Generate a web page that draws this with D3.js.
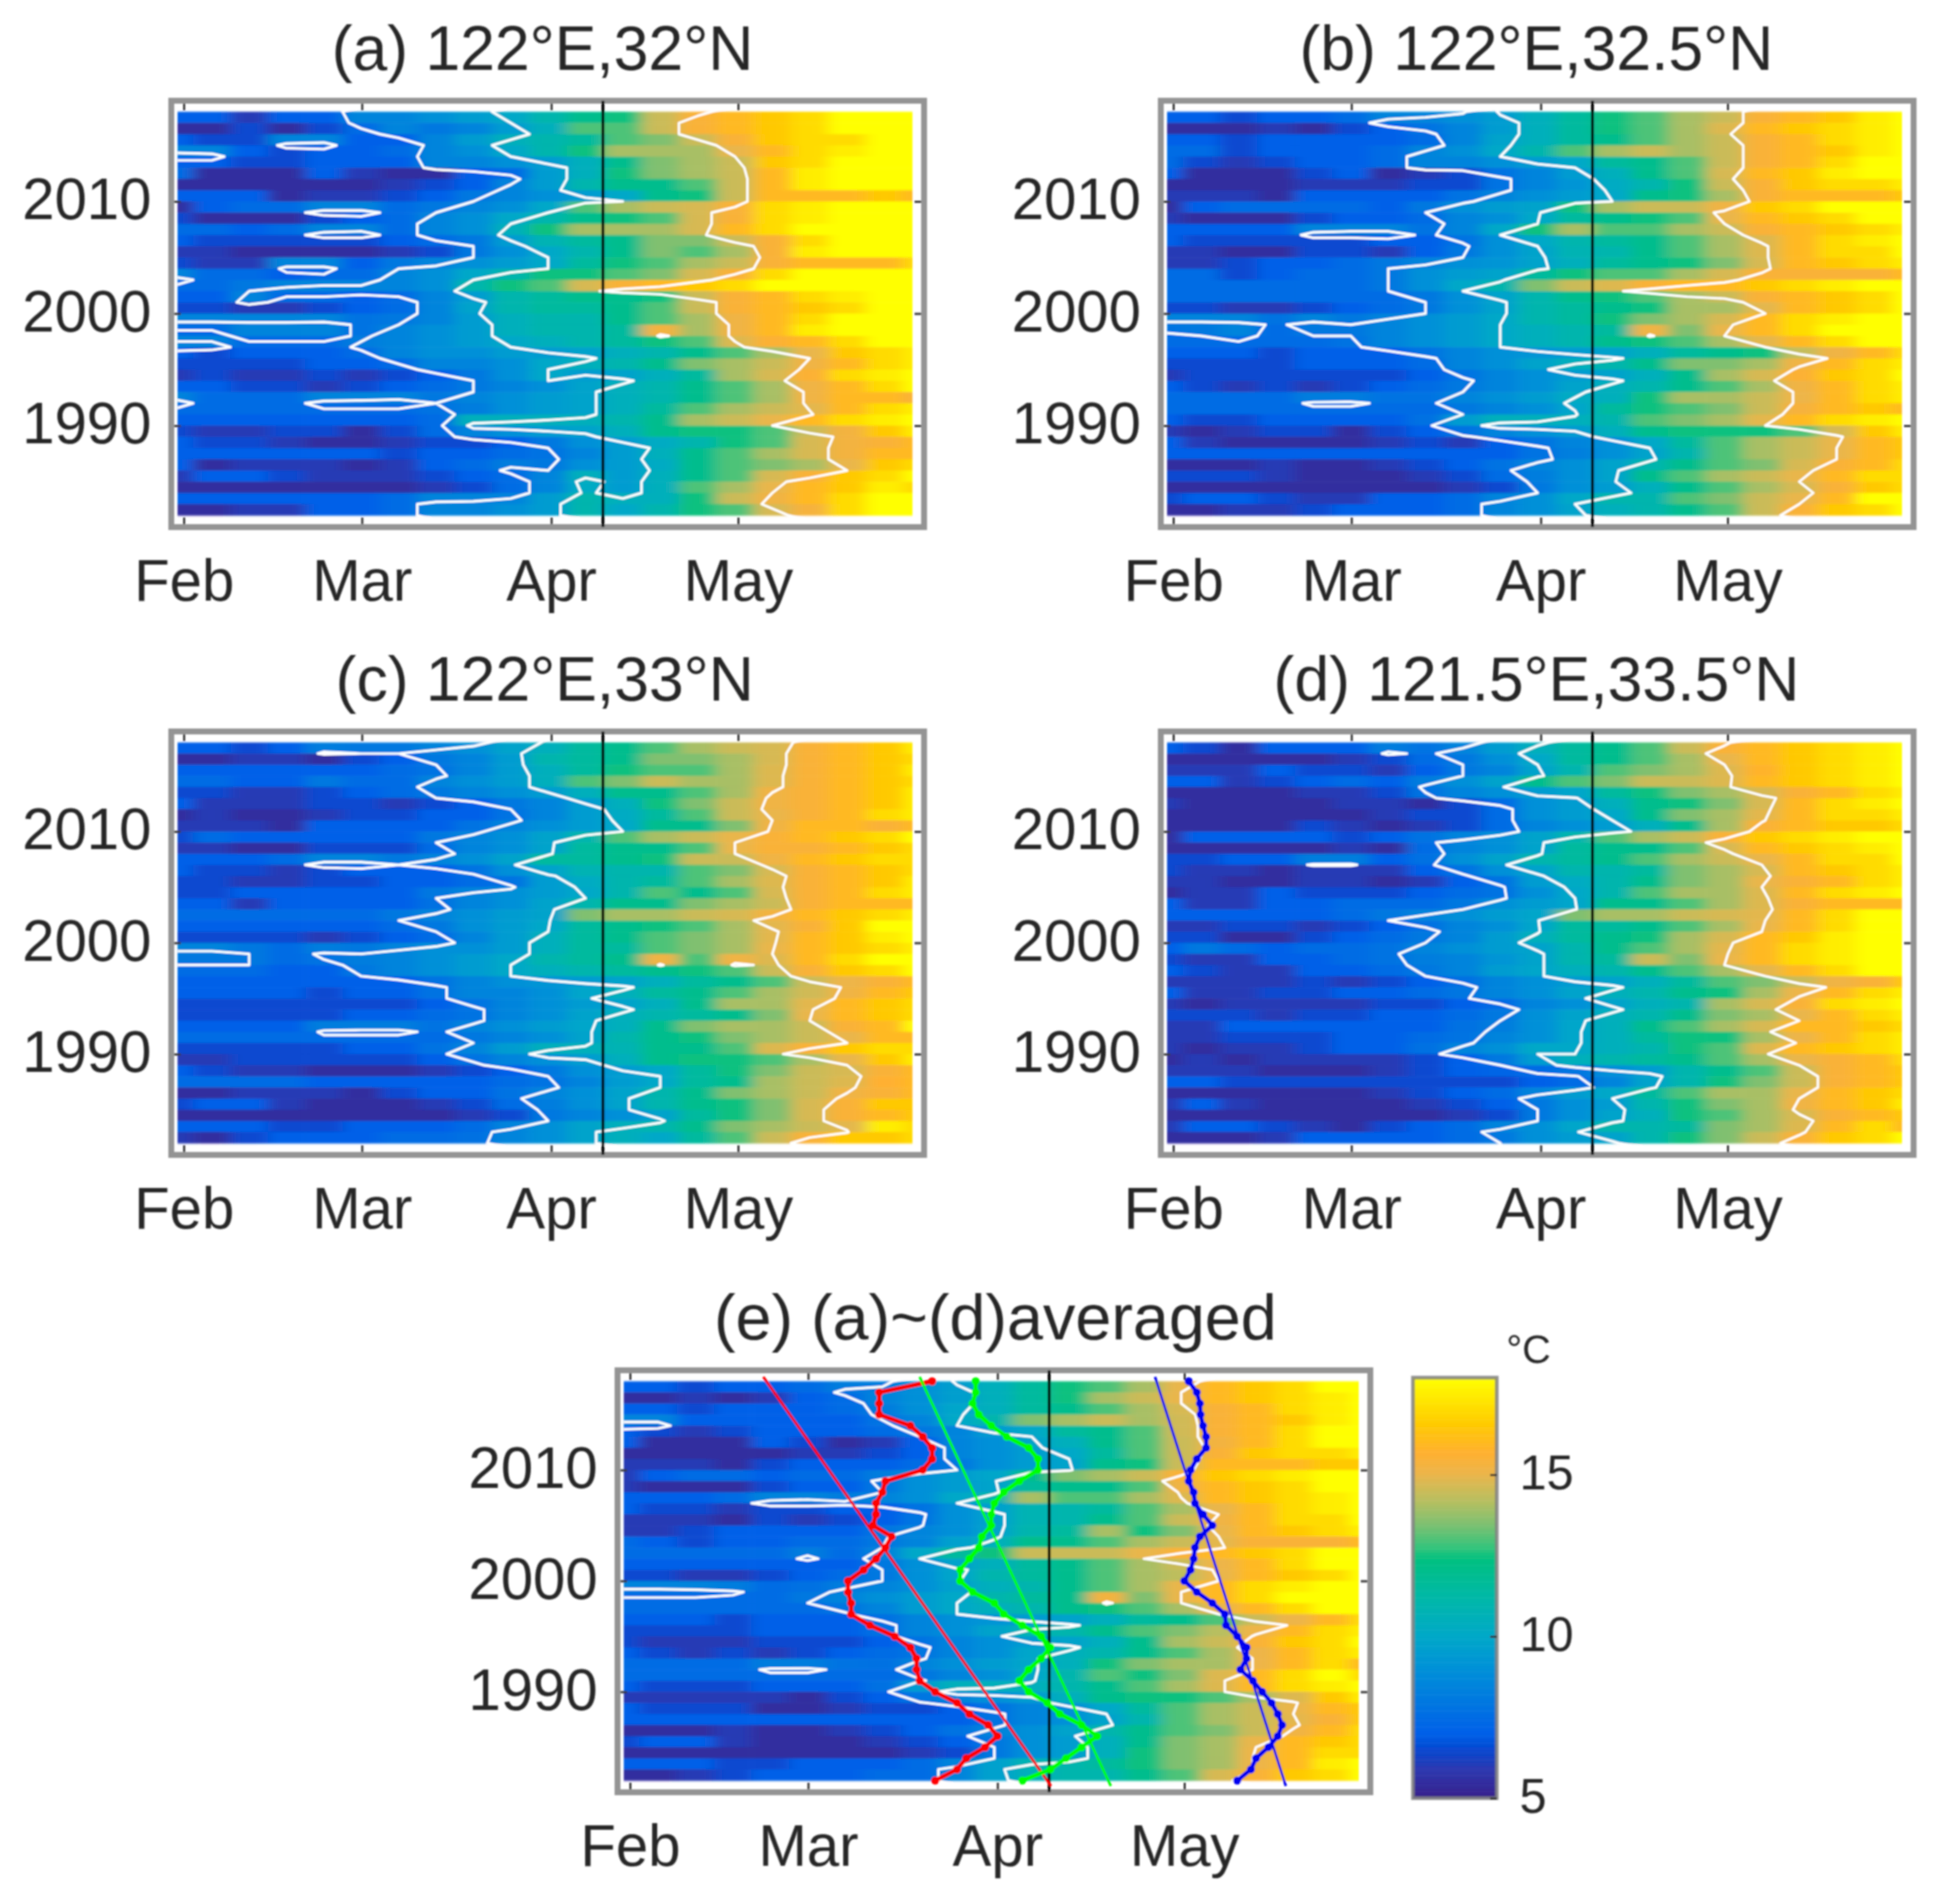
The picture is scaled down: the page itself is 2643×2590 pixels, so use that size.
<!DOCTYPE html>
<html>
<head>
<meta charset="utf-8">
<script src="https://cdn.jsdelivr.net/npm/d3@7"></script>
<style>
  html, body { margin: 0; background: #fff; }
  text { font-family: "Liberation Sans", Arial, sans-serif; fill: #262626; }
</style>
</head>
<body>
<svg id="chart" width="2643" height="2590"></svg>
<script>
// sst by year (rows, 2018 at the top, down to 1982) and day of year (columns)
const years = d3.range(2018, 1981, -1);
const colDays = d3.range(30.5, 151, 6);
const tickDays = [32, 60.6, 91, 121];
const monthLabels = ["Feb", "Mar", "Apr", "May"];
const yearTicks = [1990, 2000, 2010];
const contourLevels = [8, 10, 15];
const markDay = 99.3;

const tempStops = [5, 5.9, 6.5, 7, 8, 9, 10, 11.2, 12.4, 12.7, 13.5, 14.2, 15.05, 15.7, 16.6, 18];
const tempColors = ["#38208a", "#2c38b0", "#0848d0", "#0060e8", "#0078e0", "#0090d8", "#00a8c8", "#00b8a8",
  "#00c080", "#2fc47c", "#80c070", "#b8bf60", "#ecb54a", "#ffb030", "#ffcc00", "#ffff00"];

const panelA = [
[7,7,7,7,7.5,8.5,8.5,9,9.5,10.5,11,12,12.5,13,14.7,15.5,16,16.5,17,18,18],
[7,7,6,7,7,8.5,8.5,9,9.5,10,11,12,12.5,14.5,15.5,16,16.5,17,18,18,18],
[5.5,5.5,6.5,5.5,6.5,7.5,8.5,8,8.5,9.5,10.5,13,13,14.5,15.5,16,16.5,17,18,18,18],
[7,6.5,6.5,8.5,8.5,7,7,8.5,9.5,10.5,11,11.5,13,13.5,14.5,15.5,16.5,17,17,18,18],
[8.5,8.5,7,6.5,7,7,7.5,8.5,9,10,11,12.5,14,14,14,15,16,17,17.5,18,18],
[7,7,6.5,6.5,7,7,7,8.5,8.5,9,9.5,10.5,12,13.5,14,14.5,16.5,17,18,18,18],
[7.5,5.5,5.5,5.5,7,6,5.5,5.5,7,7.5,9.5,10.5,12.5,13.5,14,14.5,16,17.5,18,18,18],
[5.5,5.5,5.5,5.5,5.5,5.5,6,6.5,7,8.5,9.5,11,12,12,13,14.5,16,17.5,18,18,18],
[7,7,7,5.5,6,6,6.5,7,8,8.5,9,9.5,10,12,12.5,14.5,16,16,16,16.5,16],
[5.5,7,7.5,7.5,8.5,8.5,7.5,8,8.5,9,10,13,14,14.5,14.7,15.5,17,17.5,18,18,18],
[6.5,5.5,5.5,5.5,6.5,7,7.5,8.5,9,10,11,12,12.5,13,14.7,15.5,17,17.5,18,18,18],
[7.5,7.5,7,7.5,8.5,8.5,7.5,8.5,9,10.5,12.5,14,14,14,14.7,16,17,18,18,18,18],
[7,6.5,6.5,6.5,6.5,6.5,7,7.5,8,9.5,10.8,11.5,12,13.5,13.5,14.5,15.5,17,18,18,18],
[6,6,5.5,5.5,5.5,5.5,6,6.5,8,9,10,11,12,13.5,13,14,15.5,17.5,18,18,18],
[6.5,6,6,8.5,8.5,7,8,8.5,9,9.5,10,11.5,12.5,13,14,14.5,15.5,16,16,16,17],
[8.5,7.5,7.5,7,7.5,7.5,8.5,9,10,11,12.5,12.5,13,13.5,14.7,15.5,17,18,18,18,18],
[7.5,7.5,8,8.5,8.5,8.5,8.5,9,11,12.5,13,14.7,15.5,16,16.5,17,18,18,18,18,18],
[7,7,8.5,7.5,7.5,7,7.5,8.5,9.5,11,11.5,12,12,12.5,14.5,15.5,16,17,17.5,18,18],
[6.5,6.5,6,6,6.5,7,7.5,8.5,9.8,11,11.5,11.5,12,13,14.5,15.5,16,16.5,17,18,18],
[8.5,8.5,8.5,8.5,8.5,7.8,8,8.5,9.5,10.5,11,11,12,13,14,15.2,16,17,18,18,18],
[7.5,7.5,8.5,8.5,8.5,7.8,8.5,9,9.5,10.5,11,11,11.5,15.3,14,15.2,16,17.5,18,18,18],
[8.5,8.5,7.5,7.5,7.5,8.2,8.5,9,9.5,10,10.5,11,11.5,12.5,13,14.8,15.6,16,17,18,18],
[7,6.5,7,7,7,7.5,8.5,9,9,9.5,9.5,9.8,10.5,11,12,13,14,15,16.5,17,17.5],
[6.5,6.5,6.5,6.5,7,7,7.5,8.5,8.5,9,10,10.5,11,12,13.5,14,14.5,15.2,16,17,17.5],
[6,6.5,6,6,6.5,6,6.5,7,8,9,10,9.5,9.8,10.5,11.5,14,14.7,15.6,17,17.5,18],
[7,7,6.5,6.5,6,6.5,7,7.5,8,8.5,9,9.8,10.5,11,12,13,14,15.2,16,17,18],
[8.5,7.5,7.5,7.5,8.5,8.5,8.5,8,8.5,9,9.5,9.8,10.5,11,12,13,14,15.2,16,16,15.5],
[7.5,7.5,7.5,7.5,7.5,7.5,7.5,7.8,8.2,9,9.5,9.8,10.5,11.5,13,14,14.5,14.9,16,17,17.5],
[7,7,7,7,7,7,7,7.5,10.5,10.5,10.5,10.5,11,12,14,14.5,15,16,17,17.5,18],
[6.5,6,6,6.5,6.5,5.5,6.5,7.5,8.5,9,9.5,9.8,10.5,12,12.5,12.5,13,14.5,15.3,16.5,17.5],
[7,6.5,6.5,6,5.5,5.5,6,6.5,6.5,7,8,9,9.5,10.2,11,12.5,13,14.7,15.3,15.5,16],
[7,7,7,7,7,7,6.5,7,7,7.5,7.8,8.5,9.5,10.5,12,13,14,14.7,15.3,16,16],
[7,5.5,6,6,6,5.5,6,7,7.5,8.2,8,9,9.5,10.2,12,13,13.5,14,15,16.5,17],
[6,7,7,6.5,6,6,6,6.5,7,7.5,8.5,10.5,9.5,10.5,12,13,14.7,15.5,16.5,17,18],
[5.5,5.5,5.5,5.5,5.5,5.5,5.5,6,6.5,7.5,8.5,10.2,9.5,10.5,13,14,15,16,16.5,17.5,17],
[7,7,7,7,7,7,7.5,8.5,8.5,8.5,9.5,11,10.5,10.5,12.5,14.5,15.2,16,17,18,18],
[5.5,5.5,6,6,7,7,7.5,8.5,8.5,9,9.5,11,10,11,12.5,13,14.7,15.4,17,18,18]
];

const panelB = [
[7,7,7,7,7,7,7,7.5,7.8,10.2,11,12,12.5,13,13.5,14.5,15.5,16,16.5,17.5,18],
[7,7,6.5,7,7,7.5,8.5,8.5,9,9.5,10.5,11.5,12.5,13,14,14.5,15.5,16,16.5,17.5,18],
[5.5,5.5,5.5,6,5.5,6.5,7,7.8,8.5,9.5,10.5,11.5,12.5,13,14,14.8,16,16.5,17,17.5,18],
[7,7,6.5,7,7,7,7,7.5,8.5,9.8,10.5,11.5,12,13,14,14.5,15.5,16,17,17.5,18],
[7.5,7.5,6.5,7,7,7,7.5,8.5,9,10,11,13,14,14.5,14,14.5,15.5,16,16.5,17.5,18],
[7.5,6.5,6,6.5,7,7,7.5,8.5,8.5,9,9.5,10,11.5,12,13,14.5,15.5,16,17,18,18],
[7,5.5,5.5,5.5,6.5,7,5.5,6,6.5,7.8,8.5,9.5,10.5,12,13,14.7,16,16.5,17.5,18,18],
[5.5,5.5,5.5,5.5,6,6,6,6.5,6.5,7.8,8.5,9.2,10.2,11,12.5,14.5,15.5,16.5,17,17,17.5],
[6,6,6,5.5,7,7,7,7,7.8,8.5,9,9.5,10,12,12.5,14,15.5,16,16,16,16.5],
[5.5,7,7.5,7.5,7.5,7.5,7,8,9,9.5,9.8,12.5,14,14.5,14.5,15.2,16.5,17,18,18,18],
[6,5.5,5.5,5.5,6.5,7,7,7.5,8.5,9,10,11.5,12,12.5,13,15,16,16.5,17,18,18],
[7,7,7,7,8.5,8.5,8.5,7.8,8.5,10,12.5,14,13,13,14,14.5,15.5,16,16.5,17,17.5],
[7,6.5,6.5,6.5,6.5,6.5,7,7,7.8,9,10,11,11.5,12,13,14,14.8,16,17,17.5,18],
[6,6,5.5,5.5,6.5,6.5,6,7,8,9,9.8,10.8,11,12,13,14,14.8,16,17,17,18],
[6,6,6.5,7,7,7.5,8,8.5,9,9.2,9.8,10.5,11.5,12,12.5,13.5,14.7,16,16.5,17,17.5],
[7.5,7.5,6.5,7,7.5,7.5,8,9,9.5,9.8,11.5,12.5,13,13,14,14.7,15.5,15.5,15.5,15.5,16],
[7.5,7.5,7.5,7.5,7.5,7.5,8,9,10,11,13.5,14.5,14.8,15.5,16,16,16.5,17,17.5,18,18],
[7.5,7.5,7.5,7.5,7.5,7.5,7.5,8,9,9.8,11,12,12.5,13,14,14.5,15.5,16,16.5,17,18],
[6.5,6.5,6,6,6.5,7,7.5,8,9,9.8,11,11.5,12,12.5,14,14,14.9,16,16.5,17,18],
[8.5,8.5,8.5,7.8,8.5,8,8.5,9,9.5,10,11,11.5,12.5,13.5,14,14.7,16,17,17.5,18,18],
[7.8,8,8.5,7.5,8,8,8.5,9,9.5,10,10.5,11,11.5,15.2,13.5,15,16,17,18,18,18],
[7.5,7.5,7.5,7.5,7.5,7.8,8.5,9,9.5,10,10.5,11,12,12.5,13,14,14.9,16,17,18,18],
[7,7,7,6.5,7,7,7,7.8,8.5,9,9.2,9.5,9.8,10.5,11.5,12,12.5,14.4,15.2,16,17],
[6.5,6.5,6.5,6.5,7,7,7,7.5,8.5,9,9.8,10.5,11,12,13.5,13.5,14,15.2,16,17,17.5],
[6,6.5,6.5,6.5,6.5,6.5,6.5,7,7.8,8.5,9,9.5,9.8,10.5,12,14,14.7,15.6,16.5,17,18],
[7,6.5,6,6.5,6,6.5,7,7.5,8,8.5,9,9.8,10.5,11,12,13,14,15.2,16,17,17.5],
[7.5,7.5,7.5,7.5,8.2,8.2,7.8,7.8,8.5,9,9.5,10.2,10.5,12.5,14,14,14.5,15.1,16,17,17.5],
[7.5,7.5,7.5,7.5,7.5,7.5,7.5,7.5,8,8.5,9,9.9,11.5,12.5,13,13.5,14.5,15.4,16,16.5,16],
[7,6.5,6.5,7,7,7,7,7.7,9.5,10.5,10.5,10.5,11,13,13.5,14,14.9,16,17,17.5,18],
[6,5.5,6,6.5,6.5,5.5,6.5,7,7.8,8.5,9,9.5,10.5,12,12.5,12.5,12.5,13,14.7,16.5,17.5],
[7,6,5.5,5.5,5.5,5.5,6,6.5,6,7,7.8,8.5,9,10,11.5,13,14,14.5,15,16,16.5],
[7,7,7,7,7,7,7,7,7,7,7.8,8.3,9,9.8,11,13,14,14.5,15,16,16.5],
[5.5,5.5,5.5,6,5.5,5.5,6,6.5,7,7.8,8.5,9,9.8,11,12,13,13.5,14.7,15.5,16,17],
[6.5,6.5,6.5,6,5.5,5.5,5.5,6,6.5,7.5,8.2,9,9.8,12,13,14,14.5,15,16,17,17],
[5.5,5.5,5.5,5.5,5.5,5.5,5.5,5.5,6,6.5,8,9,9.5,10.5,12,13,14,14.7,15.5,16.5,17],
[6.5,7,7,6.5,6,6,7,7,7.5,8.5,9,10,11,11,13,13.5,14.5,15,16,18,18],
[5.5,5.5,6,6,6.5,7,7,7,7.5,8.5,9,9.8,10.5,11,12,13,14.5,15.5,16.5,17,18]
];

const panelC = [
[7,7,7,7,7,7,7,7,7.5,8.7,10.3,11,12,12.5,13,13.5,14.5,15.4,16,16.5,17.5],
[7,7,6.5,7,8.2,8,8,8.5,9,9.8,10.5,11.5,12,13,14,14.5,14.7,15.5,16,16.5,17.5],
[5.5,5.5,6,6,5.5,6.5,7,8,8.5,9.5,11,11.5,12,13.5,13.5,14,14.7,15.5,16,16.5,17],
[7,7,7,7,7,7,7.5,7.8,8.5,9.5,10.5,11.5,12.5,13,13,14,14.8,15.5,16,16.5,17.5],
[7.5,7.5,7,7,8,7.5,7.5,8.5,9,9.5,10.5,13,13.5,14.5,14,14,14.8,15.5,16,16.5,17],
[6.5,6.5,6,6,6.5,7,7.5,8,8.5,9,9.5,10.5,12,12,13,14,15.2,15.5,16,16.5,17.5],
[7,6,6,6,6.5,6.5,6,6.5,7,8,8.5,9.5,10.5,12.5,13.5,14.5,15.2,15.5,16,16.5,17.5],
[5.5,6,5.5,5.5,6,6.5,6.5,7,7,7.8,8.5,9.5,10.2,11.5,13,14.5,15,15.5,16,17,17.5],
[6,6,6,5.5,7,7,7,7,7.8,8.5,9,9.5,10,12,12,13.5,15.2,16,16,15.5,16],
[6.5,7.5,7,7,7,7,7,8,8.5,9,9.8,11,13,14,14.5,15,15.5,16,16.5,17,18],
[6,6,5.5,5.5,6.5,6.5,6.5,7.5,8.5,9,9.8,11.5,12,12,13,15,15.5,15.5,16,16.5,17],
[7,7,7,7.5,8.5,8.5,8,8.5,9,9.8,11.5,11.5,12,12.5,14.5,14.5,15.2,16,16.5,17,17],
[7,6.5,6.5,6,6.5,7,7,7,7.8,9,9.8,10.8,11,11,13,13.5,14.7,15.5,16,16.5,17],
[6.5,6.5,6,6,6.5,6.5,7,7,7.5,7.8,9.5,10.2,11,11.5,13,14,14.8,15.5,16,16.5,17.5],
[6.5,6.5,7,7,7,7,7,8,8.5,9,9.5,10,11,13,12,13,14.7,15.5,16,17,17.5],
[7,7,6,7,7,7,7,7.7,8.5,9,9.8,11,12,12,13.5,14,14.5,15.5,16,16,16],
[7.5,7.5,7.5,7.5,7.5,7.5,8,8.5,9,9.5,9.8,13.5,14,14,14.5,14.7,15.3,16,16.5,17,17.5],
[7,7,7,7,7,7,7.5,8,9,9.5,10,11.5,12,12.5,13,14,14.9,15.5,16.5,18,18],
[6.5,6.5,6.5,6.5,6,6.5,7,7.5,8.5,9.5,10.5,11.5,12,13,13.5,14,14.9,16,16.5,17.5,18],
[8.5,8.5,8,7.5,8.2,8,8.5,9,9,9.5,10.5,11.5,11.5,13,13.5,14,15,16,16.5,17,17.5],
[8,8,8,7.5,7.8,8.2,8.5,9,9.5,10,11,11.5,12,15.2,13,15.2,14.8,16,17,18,18],
[7.5,7.5,7.5,7,7,8,8.5,9,9.5,10,10.5,11,11.5,12,12.5,13,14.5,15.5,16.5,17,18],
[7,7,7,7,7,7,7,7.8,8.5,9,9.2,9.5,9.8,10.5,11.5,12,13,14.5,15.1,15.5,16],
[7,7,7,7,6.5,7,7,7.8,8.5,8.5,9,9.9,10.5,11.5,12,13,14,14.6,15.2,16,16.5],
[6.5,6.5,6.5,6.5,6.5,6.5,6.5,7,7.8,8.5,9,9.5,9.8,10.5,12,14,14,14.9,16,16.5,17],
[6.5,6.5,6.5,6.5,6.5,7,7,7.5,7.8,8.5,9,9.8,10.5,11,11.5,12,13.5,15,16,16.5,17],
[7,7,7,7,8.2,8.2,8.2,7.8,8.5,9,9.5,9.9,10.5,12,13.5,14,14,14.5,15.5,16,18],
[7.5,7.5,7.5,7.5,7.5,7.5,7.5,7.5,8,8.5,9,9.8,11,12,12.5,13.5,14,14.5,15,16,16],
[6.5,6.5,6.5,6.5,6.5,7,7,7.8,8.5,9.5,10.5,10.5,10.8,12,12,13,14.8,15.5,16.5,17,17],
[6,6,6.5,6.5,6.5,6.5,6.5,7,7.8,8.5,9,9.5,10.5,12,12.5,12.5,13,14,15,16.5,17.5],
[7,6.5,6,6,5.5,5.5,5.5,6,6.5,7,8,9,9.5,10,11.5,12.5,13.5,14.5,14.7,15.5,16],
[7.5,7.5,7.5,7.5,7,7,7,7,7,7.5,7.8,8.5,9.5,10,11.5,12,14,14.5,14.8,15.7,16],
[5.5,5.5,6,6,6,5.5,6.5,7,7,7.8,8.5,9,9.8,11,12,13.5,14,14.5,15.2,15.5,16],
[6.5,7,7,6,5.5,5.5,5.5,6,6.5,7.5,8.2,9,9.8,11,12,12.5,13.5,14.7,15.5,16.5,16.5],
[5.5,5.5,5.5,5.5,5.5,5.5,5.5,5.5,6,6.5,8,8.5,9,9.8,11.5,12.5,13.5,14.7,15.5,16,16.5],
[7,7,7,6.5,6.5,7,7,7,7.5,8.5,9,9.8,10.5,11,12,13.5,14,14.5,14.9,17.5,17],
[6,5.5,6.5,7,7,7,7.5,7.5,7.7,8.5,9,9.8,10.5,10,11.5,13,14.5,15.5,16.5,16.5,17]
];

const panelD = [
[7,7,6,7,7,7,7,7,7.5,8.5,9.8,10.5,11,12.5,14,14.8,16,16.5,17,17.5,18],
[7,6.5,5.5,7,7,7,8.2,7.8,8.5,9.5,10.5,11.5,12,13,14.5,15.5,16,16.5,17,17.5,18],
[5.5,5.5,5.5,5.5,5.5,6,6.5,7.5,8,9,10,11.5,12,13,14,15,16,16.5,17,17.5,18],
[6,6,6,7,6.5,6.5,6,7,8,8.5,9.8,11,13,13.5,14,14.8,15.8,16.5,17,17.5,18],
[7,7,6,6.5,7,7.5,7,8.2,9,9.8,12,13,13.5,14.5,14.5,14.8,16,16.5,17,17.5,18],
[5.5,5.5,5.5,5.5,6,6,6.5,7.8,8.5,9,9.5,9.9,11.5,12.5,13.5,14,14.7,15.5,16,17,17.5],
[6,5.5,5.5,5.5,5.5,6,6,5.5,6.5,7.5,9,9.5,10.5,12,12.5,13.5,14.7,16,17,17.5,18],
[5.5,5.5,5.5,5.5,5.5,5.5,6,6.5,6.5,7.5,9,9.5,10,12,13.5,14,14.9,16,17,17,17.5],
[5.5,5.5,5.5,5.5,6.5,6,5.5,6,6.5,7.5,8.5,9,9.5,10.5,12,14,15.5,16,16.5,16.5,17],
[5.5,7,7,7,7,6.5,7,7.8,8.5,9,9.8,11,13,14,14.5,15.5,16.5,17,17.5,18,18],
[5.5,5.5,5.5,5.5,5.5,6,5.5,7.5,8.5,9,9.8,11.5,12,12,13,14.7,16,16.5,17,17.5,18],
[6.5,6.5,7,7,8.2,8.2,7,7.7,9,9.8,11,11.5,12,13,14,14.5,15,16,17,17,18],
[6.5,6,6,5.5,6,6,6,7,7.8,9,9.8,11,11,11.5,13.5,14,14.7,16,16.5,17,17.5],
[6,6,5.5,5.5,6,6,5.5,6,7,7.8,9.5,10.2,11,12,13.5,14,15,15.5,16,17,17.5],
[5.5,6,6,7,6.5,6.5,6.5,7,7.5,7.8,9,10,11,13,14,14,14.8,16,17,17.5,18],
[7,6,6,7,7,7.5,7.5,7.5,8,9,9.5,9.9,12,12,13,14,14.8,15.5,16,16,16],
[7,7,7,7,7,7.5,8,8.5,9,9.5,9.9,13.5,14,14,14.5,14.7,14.9,16,17,18,18],
[6,6,6.5,6.5,6,6.5,7,7.7,8.5,9,9.9,11.5,11.5,12,13,14,15,16,17,18,18],
[6.5,6.5,5.5,5.5,6.5,7,7.5,8,8.5,9.5,10.5,11.5,12,12.5,14,14.7,16,16.5,17.5,18,18],
[7,8,7.5,7,7.5,7.5,7.8,8.5,9,9.5,9.8,11,12,13,14,14.9,16,17,17.5,18,18],
[6.5,6,6,7,7,7.5,7.8,8.2,8.5,9.2,9.8,11,11.5,14.5,13.5,15,16,17,17.5,18,18],
[7,6.5,6,6,7,7,7.5,8,8.5,9.5,9.9,10.5,11,12,13,14,14.9,16,17,18,18],
[6,6,6,6,6.5,6,6.5,7,7.7,8.5,9,9.5,9.8,10.5,11.5,13,13.5,14.5,15.2,15.5,16.5],
[7,6,6,6.5,6.5,7,7,7.5,7.9,8.5,9,9.8,10.5,11,12,12.5,14,15.1,16,17,17.5],
[6,5.5,6,6,6,6,6.5,6.5,7,7.5,8.5,9,9.8,10.5,11,14,14.7,15.5,17,17.5,18],
[6.5,6.5,6.5,6,6.5,6.5,7,7,7.5,8,9,9.8,10.5,11,12,13.5,14,15,16,17,17.5],
[6,6,7,7,7,7,7,7,7.7,8.2,9,9.9,10.5,12,13,14,14.7,16,16,16.5,17],
[6,6,6.5,6.5,6.5,7,7,7.5,7.8,8.5,9,9.9,10.5,11.5,12.5,12.5,14,15.1,16,17,17.5],
[6,5.5,6,6,6.5,7,7,7.7,8.5,9,10,10,10.5,11,12.5,13,14.8,16,16.5,17,17.5],
[5.5,6,5.5,6,6,6,6,6.5,7,8,9.5,10.5,11,11.5,12,13,14,15,15.5,16,17],
[6,6,6,5.5,5.5,5.5,6,6.5,7,7.2,7.5,7.9,9,9.5,11,12,13,14.5,15.5,16,16.5],
[7,7,6.5,6.5,6.5,6.5,6.5,6.5,6.5,6.5,7,7.5,8.5,9.8,11,12.5,13.5,14.5,15.5,16,16.5],
[5.5,5.5,5.5,5.5,5.5,5.5,6,6.5,7,7.5,8.5,9.5,10,11.5,13,14,14,15,16,16.5,17],
[6,7,6,5.5,5.5,5.5,5.5,6,6.5,7,8,9,9.5,11,12.5,13.5,14,15.2,16,16.5,17.5],
[5.5,5.5,5.5,5.5,5.5,5.5,5.5,5.5,6,6.5,8,9,9.8,10.5,12.5,13,14,14.7,15.5,16,16.5],
[6,7,7,6.5,6,5.5,6.5,7,7.5,8.5,9,9.9,11,11,11.5,13.5,14,14.8,16,17,16],
[5.5,5.5,5.5,6,7,7,7,7,7.5,8,9,9.5,9.8,11,12.5,13.5,14.5,15.5,16.5,17,18]
];

const panelE = [
[7,7,7,7,7,7,7.5,7.8,8.5,10.2,11,12,12.5,13,14,14.5,15.5,16,16.5,17.5,18],
[7,7,6.5,7,7,7.5,8.2,8.2,9,9.6,10.5,11.5,12.5,13,14,15,16,16.5,17,18,18],
[5.5,5.5,6,5.5,6,7,7.5,8.5,9,9.6,10.5,11.5,12.5,14,14.5,15,16,16.5,17,17.5,18],
[7,7,6.5,7,7,7,7.5,8.2,9,9.9,10.5,11.5,12,13,14,14.7,15.5,16,17,17.5,18],
[8.5,8.5,7,7,7,7,7,7.8,8.5,10,11,13.5,14,14.5,14,14.6,15.5,16,16.5,17.5,18],
[7,6.5,6,6.5,7,7,7,7.5,8,8.5,9.5,10,11.5,12,13,14.6,15.5,16,17,18,18],
[7,5.5,5.5,5.5,7,6.5,5.5,6,7,8.5,9,9.8,10.5,12,13,14.5,15.3,16,17,18,18],
[5.5,5.5,5.5,5.5,5.5,6,6,6.5,7,8.5,9,9.5,10,11.5,13,14.5,15.5,16.5,17,17,17.5],
[6,6,6,5.5,6.5,7,7,7,7.5,8,9,9.5,9.8,12,12.5,14.5,16,16,16,16.5,16.5],
[6,7,7.5,7.5,7,7.5,7.5,8.2,9,9.5,9.9,12,13.5,14,14.5,15.5,16.5,17,17.5,18,18],
[6,5.5,5.5,5.5,6.5,7,7,8,9,9.5,9.8,11.5,12,12,13,15.2,16,16.5,17,18,18],
[7,7,7,7.5,8.5,8.5,8.2,8.5,9,10,11,14,13,13,14,14.8,16,16.5,17,17.5,18],
[7,6.5,6.5,6,6.5,6.5,7,7,7.8,9,9.7,10.8,11,11.5,13,14,15,16,17,17.5,18],
[6,6,6,5.5,6.5,6,6.5,7,7.9,9,9.7,10.8,11,12,13,14.5,15.2,16,17,17,18],
[6,6,6.5,7,7,7,7,7.9,8.5,9,9.8,11,11.5,14,12.5,13.5,15,16,16.5,17,17.5],
[7.5,7,6.5,7,7,7.5,7.5,8,8.5,9.7,10.5,12,12,13,14,14.5,14.9,15.5,15.5,15.5,16],
[7.5,7.5,7.5,7.5,7.5,8.2,7.5,8.5,10,11.5,12.5,14.5,14.5,14.5,15,15.5,16,16.5,17,18,18],
[7,7,7,7,7,7,7,8,9,9.8,10.5,11.5,12,13,14,14.5,15.1,16,17,18,18],
[6.5,6.5,6,6,6.5,7,7.5,8,9,9.9,11,11.5,12,13,14,14.3,15,16,16.5,17,18],
[8.5,8.5,8.5,8.2,7.5,7.7,8.2,8.5,9,9.7,10.5,11,12,13,14,15,16,17,17.5,18,18],
[7.5,7.5,7.5,7.5,7.5,8,8.5,9,9.5,10,11,11.5,12,15.3,13.5,15,16,17,18,18,18],
[7.5,7.5,7.5,7.5,7.5,7.5,7.9,8.5,9.5,10,10.5,11,12,12.5,13,14,15,16,17,18,18],
[7,7,7,6.5,7,7,7,7.7,8.5,9,9.2,9.5,9.8,10.5,11.5,12,13,14.5,15.1,16,17],
[6.5,6.5,6.5,6.5,7,7,7,7.7,8.5,9,9.8,10.8,11,12,13,13.5,14.2,15.1,16,17,17.5],
[6.5,6,6,6,6.5,6.5,6.5,7,7.8,8.5,9,9.5,9.8,10.5,12,14,14.5,15.5,16.5,17,18],
[7,6.5,6,6.5,6,6.5,7,7.5,7.9,8.5,9,9.9,10.5,11,12,13,14,15.1,16,17,17.5],
[7.5,7.5,7.5,7.5,8.2,8.2,7.8,7.7,8.5,9,9.5,9.9,10.5,12.5,13.5,14,14,15.1,16,17,16],
[7.5,7.5,7.5,7.5,7.5,7.5,7.5,7.5,7.9,8.5,9,9.9,11,13,12.5,13.5,14.8,16,17,18,17],
[7,6.5,6.5,6.5,7,7,7,7.7,9.5,10.5,10.5,10.5,11,12,13,14,14.8,16,17,17.5,18],
[6,6,6,6,6,5.5,6.5,7,7.9,8.5,9,9.5,10.5,12,12.5,12.5,13,14,14.8,16.5,17.5],
[7,6.5,6.5,6.5,5.5,5.5,6,6.5,6.5,7,7.8,8.5,9,10,11.5,13,14,14.5,15,16,16.5],
[7,7,7,7,7,7,7,7,7,7,7.8,8.5,9,9.8,11,13,14,14.5,14.9,15.5,16.5],
[5.5,5.5,5.5,6,5.5,5.5,6,6.5,7,7.8,8.5,9,9.8,11,12,13,13.5,14.5,15.2,16,17],
[6.5,7,7,6,5.5,5.5,5.5,6,6.5,7,8,9,9.5,10.5,12,13.5,14,15,16,16.5,17],
[5.5,5.5,5.5,5.5,5.5,5.5,5.5,5.5,6,6.5,8,9,9.5,10.5,12.5,13.5,14,15.1,16,17,17],
[7,7,7,6.5,6.5,7,7,7,7.5,8.5,9.7,10.8,11,11.5,12.5,13.5,14,15.1,16,17.5,18],
[5.5,5.5,6,6.5,7,7,7,7.5,7.5,8.5,9.7,10.5,11,11,12,13,14.7,15.5,16.5,17,18]
];

// dates the 8, 10 and 15 degree marks are reached in panel e, 2018 down to 1982
const day8 = [80.5,72,72,72,77,79,80.5,80.5,79,73,72.5,71.5,71.5,71,74,73,71.5,69.5,67,67,67.5,67.5,70.5,74.5,77,78,78,78.5,81,84.5,86.5,89.5,91,89,86,84.5,81];
const day10 = [87.5,87.5,87,88,90,92.5,96,97.5,97.5,94.5,92,90.5,90,90,88.5,88,86.5,85,85,87,90.5,92,95,98,99.5,98,96,94.5,96,99,101,104.5,107,104.5,102,99.5,95];
const day15 = [121.7,123,123.5,123.6,124,124.5,124.5,123,122,121.7,122.5,122.7,124,125.5,123.5,122.7,122.5,122,121,123,125.5,127.5,127.7,129.5,131,131,130,132,133.5,135,136,136.7,136,134.5,132.5,131.7,129.5];
const trendYears = [2018.4, 1981.5];
const trend8 = [53.4, 99.6];
const trend10 = [78.5, 109.2];
const trend15 = [116.3, 137.3];

const svg = d3.select("#chart");
const defs = svg.append("defs");

// source figure is a soft upscaled raster
const soft = defs.append("filter").attr("id", "soft")
    .attr("filterUnits", "userSpaceOnUse")
    .attr("x", 0).attr("y", 0).attr("width", 2643).attr("height", 2590);
soft.append("feGaussianBlur").attr("stdDeviation", 0.9);

const cellBlur = defs.append("filter").attr("id", "cellBlur")
    .attr("filterUnits", "userSpaceOnUse")
    .attr("x", 0).attr("y", 0).attr("width", 2643).attr("height", 2590);
cellBlur.append("feGaussianBlur").attr("stdDeviation", "10 1.2");

const root = svg.append("g").attr("filter", "url(#soft)");

const tempColor = d3.scaleLinear().domain(tempStops).range(tempColors).clamp(true);

const panels = [
    { id: "a", title: "(a) 122°E,32°N", rows: panelA, dx: 0, frameY: [137, 717], yRange: [701, 152], titleX: 738, titleSize: 85 },
    { id: "b", title: "(b) 122°E,32.5°N", rows: panelB, dx: 1346, frameY: [137, 717], yRange: [701, 152], titleX: 2090, titleSize: 85 },
    { id: "c", title: "(c) 122°E,33°N", rows: panelC, dx: 0, frameY: [995, 1571], yRange: [1555, 1010], titleX: 741, titleSize: 85 },
    { id: "d", title: "(d) 121.5°E,33.5°N", rows: panelD, dx: 1346, frameY: [995, 1571], yRange: [1555, 1010], titleX: 2090, titleSize: 85 },
    { id: "e", title: "(e) (a)~(d)averaged", rows: panelE, dx: 607, frameY: [1864, 2438], yRange: [2422, 1879], titleX: 1354, titleSize: 88 }
];

panels.forEach(drawPanel);
drawColorbar();

function drawPanel(p) {
    const x = d3.scaleLinear().domain([32, 121]).range([250 + p.dx, 1004 + p.dx]);
    const y = d3.scaleLinear().domain([1982, 2018]).range(p.yRange);
    const frameX = [233 + p.dx, 1257 + p.dx];
    const imgX = [x(31), x(149)];
    const imgY = [y(2018), y(1982)];
    const g = root.append("g").attr("class", "panel-" + p.id);

    defs.append("clipPath").attr("id", "img-" + p.id)
        .append("rect")
        .attr("x", imgX[0]).attr("y", imgY[0] - 4)
        .attr("width", imgX[1] - imgX[0]).attr("height", imgY[1] - imgY[0] + 8);
    defs.append("clipPath").attr("id", "frame-" + p.id)
        .append("rect")
        .attr("x", frameX[0]).attr("y", p.frameY[0])
        .attr("width", frameX[1] - frameX[0]).attr("height", p.frameY[1] - p.frameY[0]);

    // cells, each year fills the band above its own tick like pcolor
    const half = 3;
    const cells = [];
    p.rows.forEach((row, r) => {
        if (r === 0) return;
        row.forEach((v, c) => cells.push({ year: years[r], c: c, v: v }));
    });

    g.append("g")
        .attr("clip-path", `url(#img-${p.id})`)
        .append("g")
        .attr("filter", "url(#cellBlur)")
        .selectAll("rect")
        .data(cells)
        .enter()
        .append("rect")
        .attr("x", (d) => x(colDays[d.c] - half) - (d.c === 0 ? 60 : 0))
        .attr("y", (d) => y(d.year + 1))
        .attr("width", (d) => x(half) - x(0) + x(half) - x(0) + 0.5 + (d.c === 0 || d.c === colDays.length - 1 ? 60 : 0))
        .attr("height", (d) => y(d.year) - y(d.year + 1) + 0.5)
        .attr("fill", (d) => tempColor(d.v));

    // white contours of the same grid
    const contourGen = d3.contours()
        .size([colDays.length, years.length])
        .smooth(true)
        .thresholds(contourLevels);
    const cx = d3.scaleLinear().domain([0.5, colDays.length - 0.5]).range([x(colDays[0]), x(colDays[colDays.length - 1])]);
    const cy = d3.scaleLinear().domain([0.5, years.length - 0.5]).range([y(years[0]), y(years[years.length - 1])]);
    const gridPath = d3.geoPath(d3.geoTransform({
        point(px, py) { this.stream.point(cx(px), cy(py)); }
    }));

    g.append("g")
        .attr("clip-path", `url(#img-${p.id})`)
        .selectAll("path")
        .data(contourGen(p.rows.flat()))
        .enter()
        .append("path")
        .attr("d", gridPath)
        .attr("fill", "none")
        .attr("stroke", "#fff")
        .attr("stroke-width", 3.4)
        .attr("stroke-linejoin", "round");

    // frame
    g.append("rect")
        .attr("x", frameX[0]).attr("y", p.frameY[0])
        .attr("width", frameX[1] - frameX[0]).attr("height", p.frameY[1] - p.frameY[0])
        .attr("fill", "none")
        .attr("stroke", "#949494")
        .attr("stroke-width", 8);

    // vertical reference date
    g.append("line")
        .attr("x1", x(markDay)).attr("x2", x(markDay))
        .attr("y1", p.frameY[0]).attr("y2", p.frameY[1])
        .attr("stroke", "#000")
        .attr("stroke-width", 4);

    if (p.id === "e") drawDates(g, p, x, y);

    // axes, ticks point inward
    const xTick = (gen) => gen(x).tickValues(tickDays).tickSize(-9);
    const yTick = (gen) => gen(y).tickValues(yearTicks).tickSize(-9);

    const bottom = g.append("g").attr("transform", `translate(0,${p.frameY[1] - 4})`)
        .call(xTick(d3.axisBottom).tickFormat((d, i) => monthLabels[i]));
    bottom.selectAll("text")
        .attr("y", 104)
        .attr("dy", 0)
        .attr("font-size", 79);

    g.append("g").attr("transform", `translate(0,${p.frameY[0] + 4})`)
        .call(xTick(d3.axisTop).tickFormat(""));

    const left = g.append("g").attr("transform", `translate(${frameX[0] + 4},0)`)
        .call(yTick(d3.axisLeft).tickFormat(d3.format("d")));
    left.selectAll("text")
        .attr("x", -31)
        .attr("dy", "0.3em")
        .attr("font-size", 79);

    g.append("g").attr("transform", `translate(${frameX[1] - 4},0)`)
        .call(yTick(d3.axisRight).tickFormat(""));

    g.selectAll(".domain").remove();
    g.selectAll(".tick line").attr("stroke", "#3a3a3a").attr("stroke-width", 3);

    g.append("text")
        .attr("x", p.titleX)
        .attr("y", p.frameY[0] - 42)
        .attr("text-anchor", "middle")
        .attr("font-size", p.titleSize)
        .text(p.title);
}

function drawDates(g, p, x, y) {
    const series = [
        { values: day8, trend: trend8, color: "#ff0000" },
        { values: day10, trend: trend10, color: "#00ff00" },
        { values: day15, trend: trend15, color: "#0000f0" }
    ];
    const lineGen = d3.line().x((d) => x(d.day)).y((d) => y(d.year));
    const layer = g.append("g").attr("clip-path", "url(#frame-e)");

    series.forEach((s) => {
        layer.append("path")
            .attr("d", lineGen(trendYears.map((yr, i) => ({ year: yr, day: s.trend[i] }))))
            .attr("fill", "none")
            .attr("stroke", s.color)
            .attr("stroke-width", 3.5);

        const pts = s.values.map((v, i) => ({ year: years[i], day: v }));
        layer.append("path")
            .attr("d", lineGen(pts))
            .attr("fill", "none")
            .attr("stroke", s.color)
            .attr("stroke-width", 6);
        layer.selectAll(null)
            .data(pts)
            .enter()
            .append("circle")
            .attr("cx", (d) => x(d.day))
            .attr("cy", (d) => y(d.year))
            .attr("r", 5.5)
            .attr("fill", s.color);
    });
}

function drawColorbar() {
    const bar = d3.scaleLinear().domain([5, 18]).range([2446, 1874]);
    const barX = [1922, 2036];
    const g = root.append("g").attr("class", "colorbar");

    g.selectAll("rect.step")
        .data(d3.range(5, 18, 0.1))
        .enter()
        .append("rect")
        .attr("class", "step")
        .attr("x", barX[0])
        .attr("width", barX[1] - barX[0])
        .attr("y", (d) => bar(d + 0.1))
        .attr("height", (d) => bar(d) - bar(d + 0.1) + 0.5)
        .attr("fill", (d) => tempColor(d + 0.05));

    g.append("rect")
        .attr("x", barX[0]).attr("y", bar(18))
        .attr("width", barX[1] - barX[0]).attr("height", bar(5) - bar(18))
        .attr("fill", "none")
        .attr("stroke", "#808080")
        .attr("stroke-opacity", 0.85)
        .attr("stroke-width", 5);

    const axis = g.append("g").attr("transform", `translate(${barX[1]},0)`)
        .call(d3.axisRight(bar).tickValues([5, 10, 15]).tickSize(-9));
    axis.select(".domain").remove();
    axis.selectAll(".tick line").attr("stroke", "#333").attr("stroke-width", 3);
    axis.selectAll("text")
        .attr("x", 31)
        .attr("dy", "0.3em")
        .attr("font-size", 66);

    g.append("text")
        .attr("x", 2049)
        .attr("y", 1854)
        .attr("font-size", 54)
        .text("°C");
}
</script>
</body>
</html>
